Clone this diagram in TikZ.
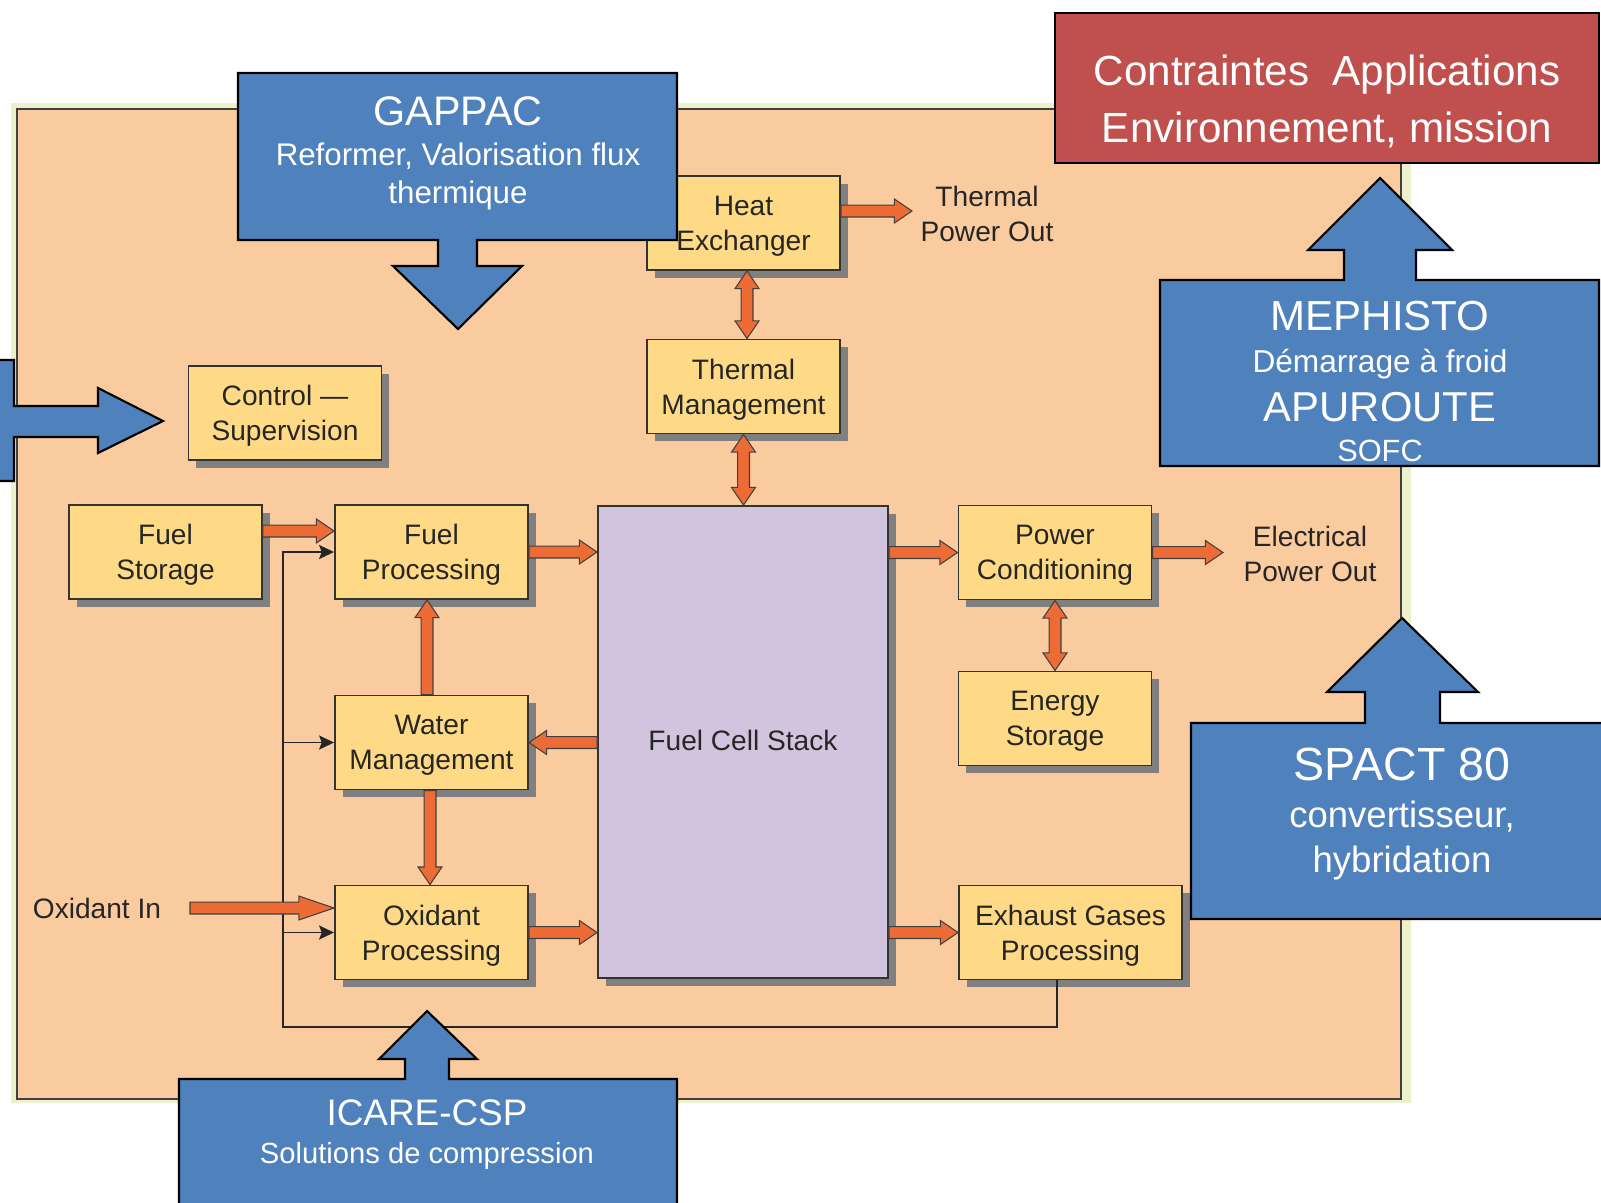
\documentclass[tikz,border=0pt]{standalone}
\usepackage{fontspec}
\setmainfont{Liberation Sans}
\usetikzlibrary{arrows.meta,calc,shadows}

\definecolor{bgorange}{RGB}{250,203,158}
\definecolor{bgpale}{RGB}{238,240,204}
\definecolor{boxyellow}{RGB}{254,218,134}
\definecolor{stacklilac}{RGB}{210,196,222}
\definecolor{flowred}{RGB}{237,107,52}
\definecolor{shadowgray}{RGB}{128,128,128}
\definecolor{callblue}{RGB}{79,129,189}
\definecolor{callred}{RGB}{192,80,77}

\newcommand\boxfont{\fontsize{16}{20}\selectfont}
\newcommand\fsz[1]{\fontsize{#1}{#1}\selectfont}

% fat orange arrow, head length #1
\newcommand\fatarrow[3][10pt]{
  \draw[fatline] let \p1=(#2), \p2=(#3), \n1={atan2(\y2-\y1,\x2-\x1)}, \n2={veclen(\x2-\x1,\y2-\y1)} in
    [shift={(\p1)}, rotate=\n1]
    (0pt,-3.4pt) -- ({\n2*1pt-#1},-3.4pt) -- ({\n2*1pt-#1},-6.8pt) -- ({\n2*1pt},0pt)
    -- ({\n2*1pt-#1},6.8pt) -- ({\n2*1pt-#1},3.4pt) -- (0pt,3.4pt) -- cycle;
}
% same, with a head at both ends
\newcommand\fatdarrow[2]{
  \draw[fatline] let \p1=(#1), \p2=(#2), \n1={atan2(\y2-\y1,\x2-\x1)}, \n2={veclen(\x2-\x1,\y2-\y1)} in
    [shift={(\p1)}, rotate=\n1]
    (0pt,0pt) -- (10pt,6.8pt) -- (10pt,3.4pt) -- ({\n2*1pt-10pt},3.4pt) -- ({\n2*1pt-10pt},6.8pt) -- ({\n2*1pt},0pt)
    -- ({\n2*1pt-10pt},-6.8pt) -- ({\n2*1pt-10pt},-3.4pt) -- (10pt,-3.4pt) -- (10pt,-6.8pt) -- cycle;
}

\begin{document}
\begin{tikzpicture}[x=0.2mm, y=-0.2mm,
    blk/.style={draw=black!80, line width=1.1pt, fill=boxyellow, text=black!85,
      minimum width=38.6mm, minimum height=18.8mm, align=center, font=\boxfont, text depth=-4pt,
      drop shadow={shadow xshift=4.5pt, shadow yshift=-4.5pt, fill=shadowgray, opacity=1}},
    lbl/.style={align=center, font=\boxfont, text=black!85},
    fatline/.style={draw=black!75, line width=0.6pt, fill=flowred},
    sig/.style={draw=black!85, line width=0.9pt, -{Stealth[length=8.5pt, width=8pt, inset=1.5pt]}},
    callout/.style={draw=black, line width=1.2pt, fill=callblue},
    ctext/.style={text=white, anchor=base, inner sep=0pt}]
    \useasboundingbox (0,0) rectangle (1601,1202);
    \clip (0,0) rectangle (1601,1202);

    % background panel
    \fill[bgpale] (11,103) rectangle (1411,1103);
    \draw[fill=bgorange, draw=black!75, line width=1.2pt] (17,109) rectangle (1401,1099);

    % blocks
    \node[blk] (ctrl) at (285,413) {Control ---\\Supervision};
    \node[blk] (fstor) at (165.5,552) {Fuel\\Storage};
    \node[blk] (fproc) at (431.5,552) {Fuel\\Processing};
    \node[blk] (water) at (431.5,742.5) {Water\\Management};
    \node[blk] (oxproc) at (431.5,932.5) {Oxidant\\Processing};
    \node[blk, fill=stacklilac, text depth=2pt, minimum width=58mm, minimum height=94.4mm] (stack) at (743,742) {Fuel Cell Stack};
    \node[blk] (heatx) at (743.5,223) {Heat\\Exchanger};
    \node[blk] (thermm) at (743.5,386.5) {Thermal\\Management};
    \node[blk] (pcond) at (1055,552.5) {Power\\Conditioning};
    \node[blk] (estor) at (1055,718.5) {Energy\\Storage};
    \node[blk, minimum width=44.6mm] (exhaust) at (1070.5,932.5) {Exhaust Gases\\Processing};

    % free labels
    \node[lbl] (tpotxt) at (987,214) {Thermal\\Power Out};
    \node[lbl] (epotxt) at (1310,554) {Electrical\\Power Out};
    \node[lbl] (oxintxt) at (97,908) {Oxidant In};
    \coordinate (tpo) at (912,211);
    \coordinate (epo) at (1223,552.5);
    \coordinate (oxin) at (190,908);
    \coordinate (bus) at (283,1027);

    % exhaust return line
    \draw[sig] ($(exhaust.south)+(-13.5,0)$) |- (bus) |- (fproc.west);
    \draw[sig] (bus |- water.west) -- (water.west);
    \draw[sig] (bus |- oxproc.west) -- (oxproc.west);

    % fuel side
    \fatarrow{$(fstor.east)+(0,-21)$}{$(fproc.west)+(0,-21)$}
    \fatarrow{fproc.east}{fproc.east -| stack.west}
    \fatarrow{water.east -| stack.west}{water.east}
    \fatarrow{oxproc.east}{oxproc.east -| stack.west}
    \fatarrow[20pt]{oxin}{$(oxproc.west)+(0,-24.5)$}
    \fatarrow{$(water.north)+(-4.5,0)$}{$(fproc.south)+(-4.5,0)$}
    \fatarrow{$(water.south)+(-1.5,0)$}{$(oxproc.north)+(-1.5,0)$}
    % thermal side
    \fatdarrow{$(heatx.south)+(3.5,0)$}{$(thermm.north)+(3.5,0)$}
    \fatdarrow{thermm.south}{thermm.south |- stack.north}
    \fatarrow{$(heatx.east)+(0,-12)$}{tpo}
    % electrical side
    \fatarrow{pcond.west -| stack.east}{pcond.west}
    \fatarrow{pcond.east}{epo}
    \fatdarrow{pcond.south}{estor.north}
    \fatarrow{exhaust.west -| stack.east}{exhaust.west}

    % GAPPAC
    \draw[callout] (238,73) -- (677,73) -- (677,240) -- (477,240) -- (477,266) -- (522,266) -- (458,329)
        -- (393,266) -- (438,266) -- (438,240) -- (238,240) -- cycle;
    \node[ctext, font=\fsz{23.5}] (gappac) at (458,125) {GAPPAC};
    \node[ctext, font=\fsz{17.8}] (gappac2) at (458,165) {Reformer, Valorisation flux};
    \node[ctext, font=\fsz{17.8}] (gappac3) at (458,203) {thermique};

    % left one, pointing at the control block
    \draw[callout] (-100,360) -- (14,360) -- (14,406) -- (98,406) -- (98,388) -- (163,421) -- (98,453)
        -- (98,437) -- (14,437) -- (14,481) -- (-100,481) -- cycle;

    % constraints
    \draw[draw=black, line width=1.2pt, fill=callred] (1055,13) rectangle (1599,163);
    \node[ctext, font=\fsz{24}] (constr1) at (1327,85) {Contraintes\ \ Applications};
    \node[ctext, font=\fsz{24}] (constr2) at (1327,142) {Environnement, mission};

    % MEPHISTO / APUROUTE
    \draw[callout] (1160,280) -- (1344,280) -- (1344,250) -- (1308,250) -- (1380,178) -- (1452,250)
        -- (1416,250) -- (1416,280) -- (1599,280) -- (1599,466) -- (1160,466) -- cycle;
    \node[ctext, font=\fsz{23.9}] (meph) at (1380,330) {MEPHISTO};
    \node[ctext, font=\fsz{18}] (meph2) at (1380,372) {Démarrage à froid};
    \node[ctext, font=\fsz{23.8}] (apur) at (1380,421) {APUROUTE};
    \node[ctext, font=\fsz{17.5}] (apur2) at (1380,461) {SOFC};

    % SPACT 80
    \draw[callout] (1191,723) -- (1365,723) -- (1365,692) -- (1327,692) -- (1402,618) -- (1478,692)
        -- (1440,692) -- (1440,723) -- (1620,723) -- (1620,919) -- (1191,919) -- cycle;
    \node[ctext, font=\fsz{26.5}] (spact) at (1402,780) {SPACT 80};
    \node[ctext, font=\fsz{20.8}] (spact2) at (1402,827) {convertisseur,};
    \node[ctext, font=\fsz{20.8}] (spact3) at (1402,872) {hybridation};

    % ICARE-CSP
    \draw[callout] (179,1079) -- (405,1079) -- (405,1059) -- (379,1059) -- (427,1011) -- (477,1059)
        -- (449,1059) -- (449,1079) -- (677,1079) -- (677,1230) -- (179,1230) -- cycle;
    \node[ctext, font=\fsz{21}] (icare) at (427,1125) {ICARE-CSP};
    \node[ctext, font=\fsz{16.6}] (icare2) at (427,1163) {Solutions de compression};
\end{tikzpicture}
\end{document}
